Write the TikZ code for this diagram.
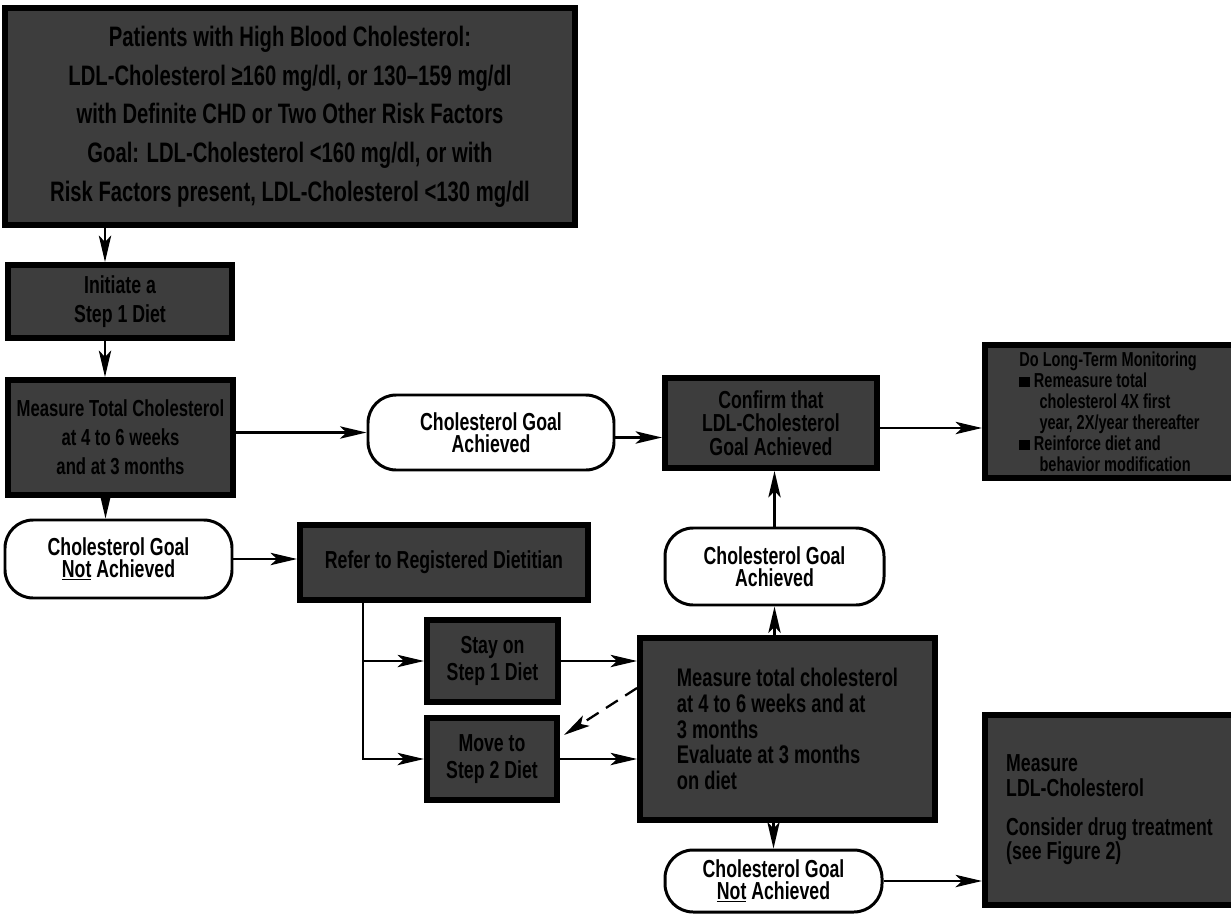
\documentclass[tikz,border=0pt]{standalone}
\usepackage{fontspec}
\setmainfont[FakeStretch=0.72]{Liberation Sans}
\usetikzlibrary{arrows.meta,calc}
\newcommand\sq{\rule{6pt}{6pt}}
\begin{document}
\begin{tikzpicture}[x=0.02cm,y=-0.02cm,
  every node/.style={font=\fontsize{14}{12.5}\selectfont\bfseries, align=center, inner sep=0pt},
  sz/.style 2 args={minimum width={#1*0.02cm}, minimum height={#2*0.02cm}},
  darkbox/.style={draw=black, line width=3.4pt, fill=black!76, text=black},
  roundbox/.style={draw=black, line width=1.7pt, rounded corners=16pt, fill=white},
  arr/.style={line width=1.3pt, -{Stealth[length=15pt,width=7pt,inset=3.5pt]}}]
\useasboundingbox (0,0) rectangle (1231,916);

\node[darkbox, sz={570}{217}, font=\fontsize{16}{22}\selectfont\bfseries] (top) at (290,116.5)
 {Patients with High Blood Cholesterol:\\
  LDL-Cholesterol ≥160 mg/dl, or 130–159 mg/dl\\
  with Definite CHD or Two Other Risk Factors\\
  Goal: LDL-Cholesterol <160 mg/dl, or with\\
  Risk Factors present, LDL-Cholesterol <130 mg/dl};

\node[darkbox, sz={224}{73}, font=\fontsize{14}{16.5}\selectfont\bfseries] (initiate) at (120,301.5) {Initiate a\\Step 1 Diet};
\node[darkbox, sz={225}{115}, font=\fontsize{13.2}{16.5}\selectfont\bfseries] (measureA) at (120.5,437.5) {Measure Total Cholesterol\\at 4 to 6 weeks\\and at 3 months};
\node[roundbox, sz={246}{75}] (achA) at (491,432.5) {Cholesterol Goal\\Achieved};
\node[darkbox, sz={212}{90}, font=\fontsize{14}{13.5}\selectfont\bfseries] (confirm) at (771,423) {Confirm that\\LDL-Cholesterol\\Goal Achieved};
\node[darkbox, sz={249}{133}, align=left, font=\fontsize{11.5}{12}\selectfont\bfseries] (monitor) at (1109.5,411.5)
 {Do Long-Term Monitoring\\
  \sq\ Remeasure total\\
  \quad cholesterol 4X first\\
  \quad year, 2X/year thereafter\\
  \sq\ Reinforce diet and\\
  \quad behavior modification};
\node[roundbox, sz={227}{78}] (notachA) at (118.5,559) {Cholesterol Goal\\\underline{Not} Achieved};
\node[darkbox, sz={288}{75}] (refer) at (444,562.5) {Refer to Registered Dietitian};
\node[darkbox, sz={131}{82}, font=\fontsize{14}{15}\selectfont\bfseries] (stay) at (492.5,661) {Stay on\\Step 1 Diet};
\node[darkbox, sz={130}{82}, font=\fontsize{14}{15}\selectfont\bfseries] (move) at (492,759) {Move to\\Step 2 Diet};
\node[darkbox, sz={295}{182}, align=left, font=\fontsize{14.5}{14.7}\selectfont\bfseries] (measureB) at (787.5,729)
 {Measure total cholesterol\\at 4 to 6 weeks and at\\3 months\\Evaluate at 3 months\\on diet};
\node[roundbox, sz={219}{77}] (achB) at (774.5,566.5) {Cholesterol Goal\\Achieved};
\node[roundbox, sz={217}{62}] (notachB) at (773.5,881) {Cholesterol Goal\\\underline{Not} Achieved};
\node[darkbox, sz={249}{190}, align=left, font=\fontsize{14}{14}\selectfont\bfseries] (drug) at (1109.5,810)
 {Measure\\LDL-Cholesterol\\[8pt]Consider drug treatment\\(see Figure 2)};

% connectors
\draw[arr] ([xshift=-0.3cm]initiate.north |- top.south) -- ([xshift=-0.3cm]initiate.north);
\draw[arr] ([xshift=-0.3cm]initiate.south) -- ([xshift=-0.3cm]initiate.south |- measureA.north);
\draw[arr] (measureA.east |- achA.west) -- (achA.west);
\draw[arr] ([xshift=-0.3cm]measureA.south) -- ([xshift=-0.3cm]measureA.south |- notachA.north);
\draw[arr] (notachA.east) -- (notachA.east -| refer.west);
\draw[arr] ([yshift=-0.1cm]achA.east) -- ([yshift=-0.1cm]achA.east -| confirm.west);
\draw[arr] ([yshift=-0.1cm]confirm.east) -- ([yshift=-0.1cm]confirm.east -| monitor.west);

\coordinate (br) at ([xshift=-1.62cm]refer.south);
\draw[arr] (br) |- (move.west);
\draw[arr] (br |- stay.west) -- (stay.west);
\draw[arr] (stay.east) -- (stay.east -| measureB.west);
\draw[arr] (move.east) -- (move.east -| measureB.west);
\draw[arr, dash pattern=on 8pt off 5pt] ([yshift=0.82cm]measureB.west) -- ([yshift=0.48cm,xshift=0.08cm]move.east);

\draw[arr] (achB.south |- measureB.north) -- (achB.south);
\draw[arr] (achB.north) -- (achB.north |- confirm.south);
\draw[arr] (notachB.north |- measureB.south) -- (notachB.north);
\draw[arr] (notachB.east) -- (notachB.east -| drug.west);
\end{tikzpicture}
\end{document}
